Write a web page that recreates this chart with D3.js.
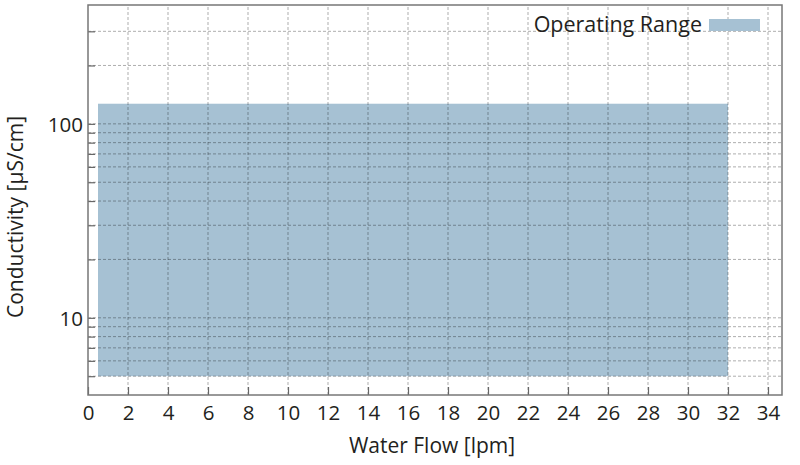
<!DOCTYPE html>
<html><head><meta charset="utf-8">
<script src="https://cdn.jsdelivr.net/npm/d3@7"></script>
<style>body{margin:0;background:#fff;} text{font-family:"Open Sans",sans-serif;fill:#231f20;}</style>
</head><body><svg id="c" width="800" height="465"></svg>
<script>
const xTicks = [0,2,4,6,8,10,12,14,16,18,20,22,24,26,28,30,32,34];
const yMajor = [10,100];
const yMinor = [5,6,7,8,9,20,30,40,50,60,70,80,90,200,300];
const rangeFlow = [0.5, 32];
const rangeCond = [5, 127];
const seriesName = "Operating Range";
const xLabel = "Water Flow [lpm]";
const yLabel = "Conductivity [µS/cm]";

const m = {l:88, r:18, t:5, b:70};
const W = 800, H = 465;
const svg = d3.select("#c");
const x = d3.scaleLinear().domain([0, 34.7]).range([m.l, W - m.r]);
const y = d3.scaleLog().domain([4, 410]).range([H - m.b, m.t]);

// rect
svg.append("rect")
  .attr("x", x(rangeFlow[0])).attr("y", y(rangeCond[1]))
  .attr("width", x(rangeFlow[1]) - x(rangeFlow[0]))
  .attr("height", y(rangeCond[0]) - y(rangeCond[1]))
  .attr("fill", "#a6c1d3");

// grid
const g = svg.append("g").attr("stroke", "rgba(0,0,0,0.32)").attr("stroke-dasharray", "3,2").attr("stroke-width", 1);
xTicks.filter(v => v > 0).forEach(v => {
  g.append("line").attr("x1", x(v)).attr("x2", x(v)).attr("y1", y.range()[0]).attr("y2", y.range()[1]);
});
yMajor.concat(yMinor).forEach(v => {
  g.append("line").attr("x1", x.range()[0]).attr("x2", x.range()[1]).attr("y1", y(v)).attr("y2", y(v));
});

// axes
const xAxis = d3.axisBottom(x).tickValues(xTicks).tickSize(-8).tickPadding(10).tickFormat(d3.format("d"));
const xg = svg.append("g").attr("transform", `translate(0,${H - m.b})`).call(xAxis);
const yAxis = d3.axisLeft(y).tickValues(yMajor.concat(yMinor)).tickSize(-7).tickPadding(5)
  .tickFormat(d => yMajor.includes(d) ? d : "");
const yg = svg.append("g").attr("transform", `translate(${m.l},0)`).call(yAxis);
[xg, yg].forEach(a => {
  a.select(".domain").remove();
  a.selectAll(".tick line").attr("stroke", "#666").attr("stroke-width", 1.2);
  a.selectAll(".tick text").style("font-size", "20.5px").attr("fill", "#231f20");
});
yg.selectAll(".tick text").attr("dy", "0.35em");

// frame
svg.append("rect").attr("x", m.l).attr("y", m.t)
  .attr("width", W - m.r - m.l).attr("height", H - m.b - m.t)
  .attr("fill", "none").attr("stroke", "#777").attr("stroke-width", 1.5);

// labels
svg.append("text").attr("x", 432).attr("y", 453)
  .attr("text-anchor", "middle").style("font-size", "21px").text(xLabel);
svg.append("text").attr("transform", `translate(23,217) rotate(-90)`)
  .attr("text-anchor", "middle").style("font-size", "21px").text(yLabel);

// legend
svg.append("rect").attr("x", 709).attr("y", 19).attr("width", 51).attr("height", 12).attr("fill", "#a6c1d3");
svg.append("text").attr("x", 702).attr("y", 32).attr("text-anchor", "end").style("font-size", "21.5px").text(seriesName);
</script></body></html>
